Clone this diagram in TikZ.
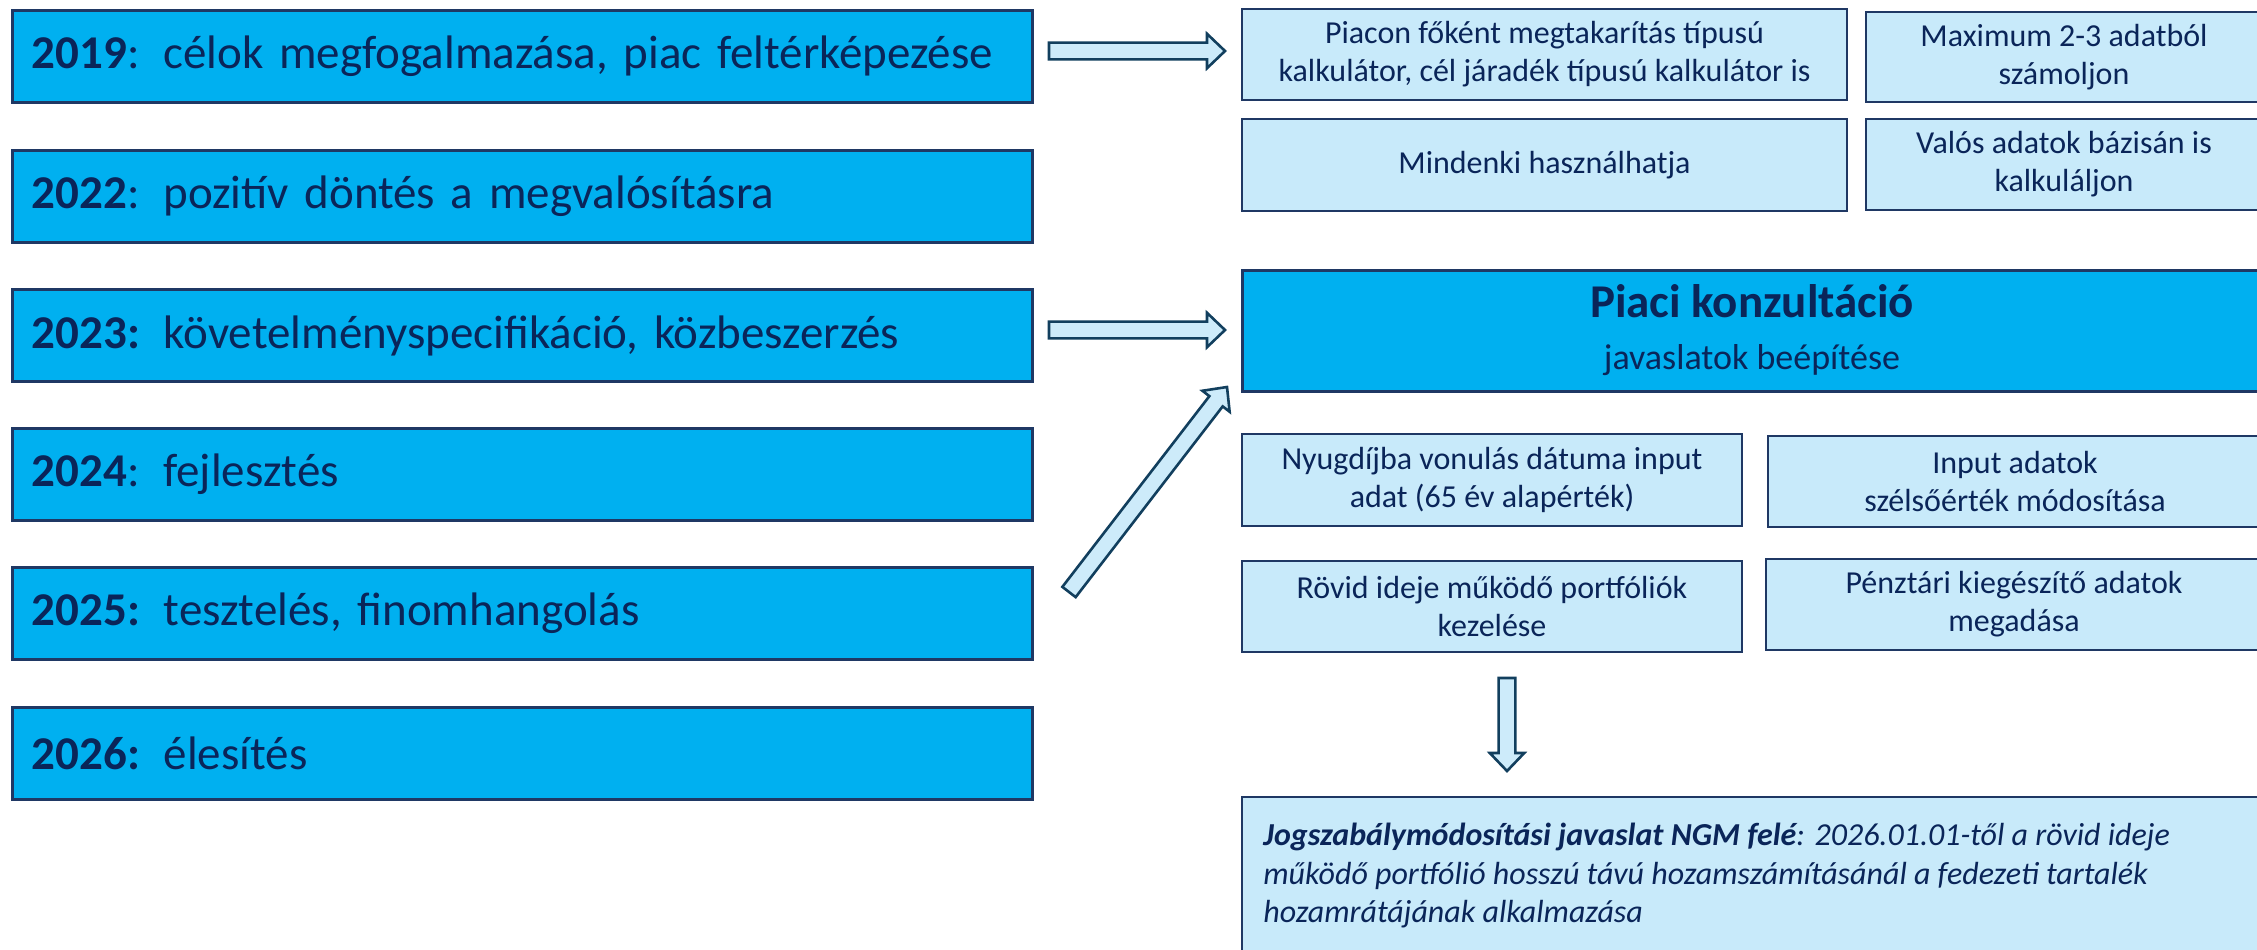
\documentclass[tikz,border=0pt]{standalone}
\usepackage{fontspec}
\setmainfont{Carlito}
\usetikzlibrary{calc}
\definecolor{dblue}{HTML}{00B0F0}
\definecolor{lblue}{HTML}{C8EAFA}
\definecolor{navy}{HTML}{1F3864}
\definecolor{tnavy}{HTML}{0A2559}
\definecolor{abord}{HTML}{123F5E}
\definecolor{afill}{HTML}{CDEBFA}
\newcommand\blkarrow[2]{%
  \path (#1); \pgfgetlastxy{\blkax}{\blkay}%
  \path (#2); \pgfgetlastxy{\blkbx}{\blkby}%
  \pgfmathsetmacro\blkang{atan2(\blkby-\blkay,\blkbx-\blkax)}%
  \pgfmathsetmacro\blklen{veclen(\blkbx-\blkax,\blkby-\blkay)}%
  \begin{scope}[shift={(#1)}, rotate=\blkang, x=1pt, y=1pt]
    \draw[barrow] (0,-4.2) -- (\blklen-9,-4.2) -- (\blklen-9,-8.6) -- (\blklen,0) -- (\blklen-9,8.6) -- (\blklen-9,4.2) -- (0,4.2) -- cycle;
  \end{scope}}
\begin{document}
\begin{tikzpicture}[x=0.5pt,y=-0.5pt,
  ybox/.style={draw=navy, line width=1.5pt, fill=dblue, text=tnavy, minimum width=510pt, minimum height=46pt, inner xsep=10pt, inner ysep=0pt, text width=490pt, align=left, font=\fontsize{23.5}{28}\selectfont, outer sep=0pt},
  lbox/.style={draw=navy, line width=1.3pt, fill=lblue, text=tnavy, align=center, font=\fontsize{16}{19}\selectfont, inner sep=0pt, outer sep=0pt},
  barrow/.style={draw=abord, line width=1.3pt, fill=afill, line join=miter}]
\useasboundingbox (0,0) rectangle (2257,949);
\clip (0,0) rectangle (2257,949);
\fill[white] (0,0) rectangle (2257,949);
% timeline boxes
\node[ybox] (y2019) at (522,56) {\textbf{2019}: célok megfogalmazása, piac feltérképezése};
\node[ybox] (y2022) at (522,196) {\textbf{2022}: pozitív döntés a megvalósításra};
\node[ybox] (y2023) at (522,335.5) {\textbf{2023:} követelményspecifikáció, közbeszerzés};
\node[ybox] (y2024) at (522,474) {\textbf{2024}: fejlesztés};
\node[ybox] (y2025) at (522,613.5) {\textbf{2025:} tesztelés, finomhangolás};
\node[ybox] (y2026) at (522,753) {\textbf{2026:} élesítés};
% right boxes
\node[lbox, minimum width=302.5pt, minimum height=45.5pt] (pia) at (1544.5,54.5) {Piacon főként megtakarítás típusú\\kalkulátor, cél járadék típusú kalkulátor is};
\node[lbox, minimum width=198pt, minimum height=45pt] (max) at (2064,57) {Maximum 2-3 adatból\\számoljon};
\node[lbox, minimum width=302.5pt, minimum height=46pt] (min) at (1544.5,165) {Mindenki használhatja};
\node[lbox, minimum width=198pt, minimum height=45.5pt] (val) at (2064,164.5) {Valós adatok bázisán is\\kalkuláljon};
\node[lbox, fill=dblue, line width=1.5pt, minimum width=510pt, minimum height=60.5pt, font=\fontsize{18}{26}\selectfont] (kons) at (1752,330.5) {{\fontsize{23.5}{26}\selectfont\bfseries Piaci konzultáció}\\javaslatok beépítése};
\node[lbox, minimum width=250pt, minimum height=46pt] (nyu) at (1492,480) {Nyugdíjba vonulás dátuma input\\adat (65 év alapérték)};
\node[lbox, minimum width=247pt, minimum height=45.5pt] (inp) at (2015,481.5) {Input adatok\\szélsőérték módosítása};
\node[lbox, minimum width=250pt, minimum height=45.5pt] (rov) at (1492,606.5) {Rövid ideje működő portfóliók\\kezelése};
\node[lbox, minimum width=248pt, minimum height=45.5pt] (pen) at (2014,604.5) {Pénztári kiegészítő adatok\\megadása};
\node[lbox, anchor=north west, minimum width=510pt, minimum height=90pt] (jogbox) at (1242,797) {};
\node[anchor=north west, text=tnavy, font=\fontsize{16}{19.25}\selectfont\itshape, align=left, inner xsep=10.5pt, inner ysep=13pt] (jog) at (jogbox.north west) {\textbf{Jogszabálymódosítási javaslat NGM felé}: 2026.01.01-től a rövid ideje\\működő portfólió hosszú távú hozamszámításánál a fedezeti tartalék\\hozamrátájának alkalmazása};
% arrows
\coordinate (a1s) at (1049,51);
\coordinate (a1e) at (1225,51);
\coordinate (a2s) at (1049,330);
\coordinate (a2e) at (1225,330);
\coordinate (a3s) at (1069,592);
\coordinate (a3e) at (1227,387);
\coordinate (a4s) at (1507,678);
\coordinate (a4e) at (1507,771);
\blkarrow{a1s}{a1e}
\blkarrow{a2s}{a2e}
\blkarrow{a3s}{a3e}
\blkarrow{a4s}{a4e}
\end{tikzpicture}
\end{document}
